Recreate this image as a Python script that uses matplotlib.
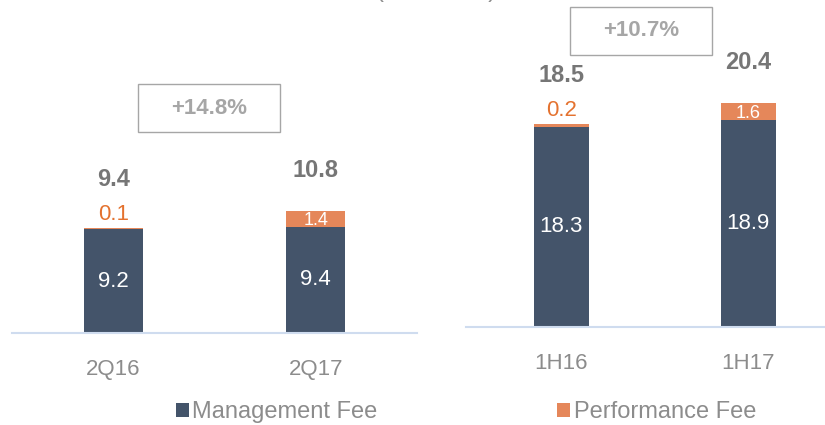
import matplotlib
matplotlib.use("Agg")
import matplotlib.pyplot as plt
from matplotlib.patches import Rectangle, Patch

plt.rcParams['font.family'] = ['Liberation Sans', 'DejaVu Sans']

# ---- data ----
left_categories = ["2Q16", "2Q17"]
left_management = [9.2, 9.4]
left_performance = [0.1, 1.4]
left_totals = [9.4, 10.8]
left_growth = "+14.8%"

right_categories = ["1H16", "1H17"]
right_management = [18.3, 18.9]
right_performance = [0.2, 1.6]
right_totals = [18.5, 20.4]
right_growth = "+10.7%"

series_names = ["Management Fee", "Performance Fee"]
subtitle = "(R$ million)"

# ---- style ----
NAVY = "#44546A"
ORANGE = "#E5875A"
ORANGE_TXT = "#E4722F"
TOTAL_GRAY = "#767676"
TICK_GRAY = "#8C8C8C"
BOX_GRAY = "#A6A6A6"
AXIS_BLUE = "#CFDCEF"

W, H = 825, 425
fig = plt.figure(figsize=(W / 100, H / 100), dpi=100)


def px_axes(x0, x1, base_y):
    return fig.add_axes([x0 / W, (H - base_y) / H, (x1 - x0) / W, base_y / H])


def draw_panel(ax, cats, mgmt, perf, totals, ylim_top, xlim, width):
    xs = list(range(len(cats)))
    ax.bar(xs, mgmt, width=width, color=NAVY, zorder=2)
    ax.bar(xs, perf, width=width, bottom=mgmt, color=ORANGE, zorder=2)
    ax.set_xlim(*xlim)
    ax.set_ylim(0, ylim_top)
    for s in ["top", "right", "left"]:
        ax.spines[s].set_visible(False)
    ax.spines["bottom"].set_color(AXIS_BLUE)
    ax.spines["bottom"].set_linewidth(1.5)
    ax.set_yticks([])
    ax.set_xticks(xs)
    ax.set_xticklabels(cats, fontsize=16, color=TICK_GRAY)
    ax.tick_params(axis="x", length=0, pad=19)
    for x, m, p, t in zip(xs, mgmt, perf, totals):
        top = m + p
        ax.text(x, m / 2, f"{m:.1f}", ha="center", va="center",
                color="white", fontsize=16, zorder=3)
        if p < 0.5:
            ax.annotate(f"{p:.1f}", (x, top), xytext=(0, 10),
                        textcoords="offset points", ha="center", va="center",
                        color=ORANGE_TXT, fontsize=16)
            off = 35
        else:
            ax.text(x, m + p / 2, f"{p:.1f}", ha="center", va="center_baseline",
                    color="white", fontsize=13, zorder=3)
            off = 29
        ax.annotate(f"{t:.1f}", (x, top), xytext=(0, off),
                    textcoords="offset points", ha="center", va="center",
                    color=TOTAL_GRAY, fontsize=17, fontweight="bold")


ax1 = px_axes(12, 417, 333)
draw_panel(ax1, left_categories, left_management, left_performance,
           left_totals, 333 / 11.3, (-0.5, 1.5), 0.29)

ax2 = px_axes(466, 825, 327)
draw_panel(ax2, right_categories, right_management, right_performance,
           right_totals, 327 / 10.95, (-0.508, 1.41), 0.294)


def growth_box(cx, cy, w, h, label):
    fig.patches.append(Rectangle(((cx - w / 2) / W, (H - cy - h / 2) / H),
                                 w / W, h / H, transform=fig.transFigure,
                                 fill=False, edgecolor=BOX_GRAY, linewidth=1.0))
    fig.text(cx / W, (H - cy) / H, label, ha="center", va="center",
             color=BOX_GRAY, fontsize=16, fontweight="bold")


growth_box(209, 108, 142, 48, left_growth)
growth_box(641, 31, 142, 48, right_growth)

# subtitle, cut off at the top edge as in the reference
fig.text(436 / W, 1 + 3 / H, subtitle, ha="center", va="baseline",
         color=TICK_GRAY, fontsize=17)

handles = [Patch(facecolor=NAVY, edgecolor="none"),
           Patch(facecolor=ORANGE, edgecolor="none")]
fig.legend(handles, series_names, loc="center", bbox_to_anchor=(466 / W, 13 / H),
           ncol=2, frameon=False, fontsize=17, labelcolor=TICK_GRAY,
           handlelength=0.55, handleheight=0.55, handletextpad=0.15,
           columnspacing=7.6, borderpad=0)

fig.savefig("out.png", dpi=100)
